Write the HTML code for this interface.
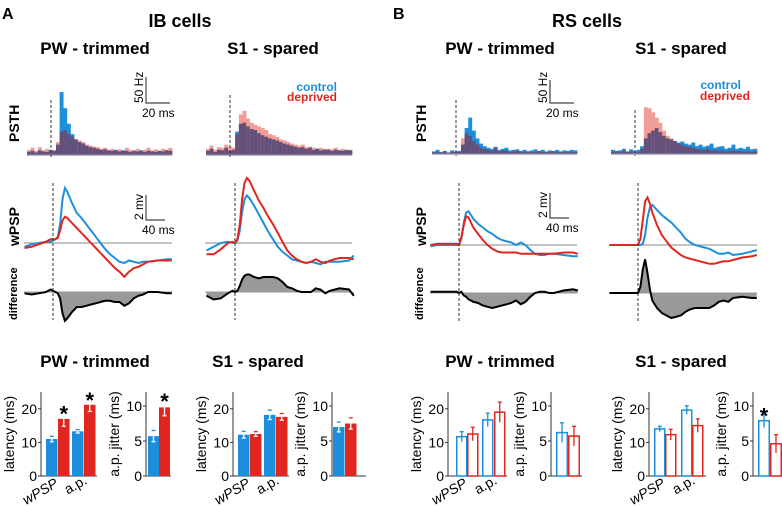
<!DOCTYPE html>
<html><head><meta charset="utf-8"><style>
body{margin:0;background:#fff;}
svg{display:block;font-family:"Liberation Sans",Arial,sans-serif;}
.b{font-weight:bold}
</style></head><body>
<svg id="fig" width="782" height="506" viewBox="0 0 782 506" xmlns="http://www.w3.org/2000/svg">
<g>
<text x="2" y="19" class="b" font-size="16">A</text>
<text x="393" y="19" class="b" font-size="16">B</text>
<text x="180" y="27" class="b" font-size="18" text-anchor="middle">IB cells</text>
<text x="587" y="27" class="b" font-size="18" text-anchor="middle">RS cells</text>
<text x="95" y="54" class="b" font-size="17" text-anchor="middle">PW - trimmed</text>
<text x="273" y="54" class="b" font-size="17" text-anchor="middle">S1 - spared</text>
<text x="500" y="54" class="b" font-size="17" text-anchor="middle">PW - trimmed</text>
<text x="681" y="54" class="b" font-size="17" text-anchor="middle">S1 - spared</text>
<text transform="translate(19,142) rotate(-90)" class="b" font-size="14">PSTH</text>
<text transform="translate(19,246) rotate(-90)" class="b" font-size="14">wPSP</text>
<text transform="translate(17,320) rotate(-90)" class="b" font-size="11">difference</text>
<text transform="translate(426,142) rotate(-90)" class="b" font-size="14">PSTH</text>
<text transform="translate(426,246) rotate(-90)" class="b" font-size="14">wPSP</text>
<text transform="translate(423,320) rotate(-90)" class="b" font-size="11">difference</text>
<text x="337" y="91" class="b" font-size="12" fill="#1b8fdc" text-anchor="end">control</text>
<text x="337" y="101" class="b" font-size="12" fill="#e0261f" text-anchor="end">deprived</text>
<text x="741" y="89" class="b" font-size="12" fill="#1b8fdc" text-anchor="end">control</text>
<text x="750" y="100" class="b" font-size="12" fill="#e0261f" text-anchor="end">deprived</text>
<text x="95" y="367" class="b" font-size="17" text-anchor="middle">PW - trimmed</text>
<text x="258" y="367" class="b" font-size="17" text-anchor="middle">S1 - spared</text>
<text x="500" y="367" class="b" font-size="17" text-anchor="middle">PW - trimmed</text>
<text x="681" y="367" class="b" font-size="17" text-anchor="middle">S1 - spared</text>
</g>
</svg>
<script>
const BLUE="#1b8fdc",RED="#e0261f",PURP="#65507a",PINK="#f19d98";
// PSTH data (Hz per bin)
const psthIbPwCtrl=[6,8,5,9,7,6,10,8,20,121,90,60,40,30,25,22,18,15,14,12,10,11,9,8,10,7,9,8,6,8,7,9,6,8,7,6,8,7,9,8];
const psthIbPwDep=[10,14,8,15,9,12,8,10,25,45,48,40,35,30,28,25,20,18,16,15,12,14,10,12,9,11,8,14,10,9,12,8,10,14,9,11,8,12,10,14];
const psthIbS1Ctrl=[8,12,6,10,9,14,8,10,45,60,62,55,50,48,42,38,35,32,30,28,25,22,20,18,16,14,15,12,14,10,12,9,11,10,8,10,9,8,10,9];
const psthIbS1Dep=[12,18,10,15,14,20,16,14,40,78,85,70,62,58,55,52,48,40,38,35,30,28,25,22,20,18,20,15,16,14,12,14,10,12,11,14,10,12,9,10];
const psthRsPwCtrl=[5,8,4,6,3,7,5,6,18,50,70,45,30,20,15,12,10,14,8,10,12,7,8,9,6,8,5,7,9,6,8,5,7,6,8,5,7,6,8,7];
const psthRsPwDep=[3,4,3,5,2,4,3,4,30,40,35,25,18,12,10,8,6,12,5,7,6,4,5,6,4,3,5,4,3,5,4,3,4,5,3,4,3,4,3,4];
const psthRsS1Ctrl=[8,6,7,10,5,9,6,8,15,30,40,45,50,42,35,30,28,25,22,24,20,18,22,15,18,14,16,20,12,14,15,10,12,18,10,12,10,14,9,10];
const psthRsS1Dep=[4,5,3,6,4,5,3,4,10,90,88,80,70,60,45,35,30,25,20,18,15,14,12,10,9,8,10,7,8,6,7,5,6,7,5,6,4,5,4,5];
// wPSP traces (ms, mV)
const tMs=[-60,-45,-30,-15,-5,0,5,10,15,20,25,30,40,50,60,70,80,90,100,110,120,130,140,150,160,170,180,190,200,220,240,250];
const wIbPwCtrl=[-0.3,-0.1,0,0.1,0.1,0.2,0.3,0.5,1.5,3.5,4.4,4.1,3.2,2.4,2.0,1.5,1.0,0.5,0,-0.5,-0.9,-1.2,-1.5,-1.6,-1.4,-1.5,-1.6,-1.5,-1.5,-1.4,-1.3,-1.3];
const wIbPwDep=[-0.4,-0.3,-0.1,0.1,0.3,0.3,0.3,0.4,1.0,1.8,2.1,2.0,1.6,1.2,0.8,0.4,0,-0.4,-0.8,-1.2,-1.6,-2.0,-2.3,-2.7,-2.3,-2.0,-1.9,-1.7,-1.5,-1.4,-1.4,-1.4];
const wIbS1Ctrl=[-0.6,-0.3,0,0.1,0,0,0.2,1.0,2.5,3.5,3.8,3.6,3.0,2.3,1.6,0.9,0.3,-0.3,-0.7,-1.0,-1.3,-1.4,-1.5,-1.6,-1.5,-1.6,-1.7,-1.5,-1.5,-1.5,-1.4,-1.0];
const wIbS1Dep=[-0.9,-0.9,-0.5,0,0.1,0,0.3,1.5,3.5,4.8,5.2,5.0,4.2,3.4,2.8,2.1,1.5,0.8,0.1,-0.6,-1.0,-1.3,-1.5,-1.6,-1.5,-1.3,-1.5,-1.6,-1.4,-1.2,-1.2,-1.3];
const wRsPwCtrl=[-0.1,0,0,0,0,0,0.5,1.8,2.6,2.7,2.4,2.1,1.7,1.4,1.1,0.9,0.6,0.4,0.3,0.2,0,0.2,0,-0.4,-0.7,-0.8,-0.8,-0.7,-0.7,-0.8,-0.9,-0.9];
const wRsPwDep=[0,0.1,0.1,0.1,0.1,0,0.6,1.6,2.3,2.2,1.8,1.4,0.9,0.4,0,-0.3,-0.5,-0.6,-0.6,-0.6,-0.6,-0.7,-0.7,-0.7,-0.7,-0.7,-0.7,-0.7,-0.7,-0.6,-0.6,-0.7];
const wRsS1Ctrl=[0,0,0,0,0,0,0,0.1,0.8,2.2,3.0,3.2,2.8,2.4,2.1,1.8,1.4,1.0,0.5,0.2,0,-0.1,-0.2,-0.3,-0.5,-0.7,-0.7,-0.6,-0.8,-0.7,-0.5,-0.4];
const wRsS1Dep=[0,0,0,0,0,0,0.5,2.0,3.5,3.8,3.3,2.6,1.6,0.8,0.3,-0.2,-0.5,-0.8,-1.0,-1.1,-1.2,-1.3,-1.4,-1.5,-1.5,-1.4,-1.3,-1.3,-1.2,-1.0,-0.9,-0.8];
// Bar data: [wPSP ctrl, wPSP dep, a.p. ctrl, a.p. dep]
const latIbPw=[11,17,13.3,21.2], latIbPwErr=[0.8,2.2,0.5,2];
const jitIbPw=[5.7,9.8], jitIbPwErr=[0.8,1.2];
const latIbS1=[12.3,12.5,18.2,17.6], latIbS1Err=[1,0.7,1.4,1];
const jitIbS1=[7,7.5], jitIbS1Err=[0.7,0.8];
const latRsPw=[11.7,12.5,16.7,19], latRsPwErr=[1.5,2,2,3];
const jitRsPw=[6.2,5.7], jitRsPwErr=[1.4,1.4];
const latRsS1=[14,12.3,19.6,15], latRsS1Err=[0.8,1.6,1.3,2];
const jitRsS1=[7.9,4.6], jitRsS1Err=[1,1.3];
const latTicks=[0,10,20], jitTicks=[0,5,10];

const svg=document.getElementById('fig');
const NS="http://www.w3.org/2000/svg";
function mk(tag,attrs,parent){const e=document.createElementNS(NS,tag);for(const k in attrs)e.setAttribute(k,attrs[k]);(parent||svg).appendChild(e);return e;}

function psth(x0,x1,base,stimX,yTop,ctrl,dep,name){
  const g=mk('g',{});
  
  
  const n=ctrl.length,w=(x1-x0)/n,sc=26/50;
  const ys=v=>base-v*sc;
  for(let i=0;i<n;i++){
    const x=x0+i*w;
    const hi=Math.max(ctrl[i],dep[i]),lo=Math.min(ctrl[i],dep[i]);
    const r=mk('rect',{x:x,y:ys(hi),width:w+0.3,height:hi*sc,fill:ctrl[i]>=dep[i]?BLUE:PINK},g);
    
    
    const r2=mk('rect',{x:x,y:ys(lo),width:w+0.3,height:lo*sc,fill:PURP},g);
    
    
  }
  mk('line',{x1:x0,x2:x1,y1:base,y2:base,stroke:'#8a8aa8','stroke-width':1.2},g);
  const d=mk('line',{x1:stimX,x2:stimX,y1:yTop,y2:base+2,stroke:'#333','stroke-dasharray':'3,2','stroke-width':1},g);
  
  
}
psth(27,172,155,51,100,psthIbPwCtrl,psthIbPwDep,'psth-ib-pw');
psth(206,352,155,230,95,psthIbS1Ctrl,psthIbS1Dep,'psth-ib-s1');
psth(432,577,154,456,100,psthRsPwCtrl,psthRsPwDep,'psth-rs-pw');
psth(611,757,154,635,110,psthRsS1Ctrl,psthRsS1Dep,'psth-rs-s1');

function scaleBar(x,yTop,yBot,len,lbl1,lbl2,name){
  const g=mk('g',{});
  
  
  mk('polyline',{points:`${x},${yTop} ${x},${yBot} ${x+len},${yBot}`,fill:'none',stroke:'#444','stroke-width':1.2},g);
  const t1=mk('text',{transform:`translate(${x-3},${yBot}) rotate(-90)`,'font-size':12},g);t1.textContent=lbl1;
  const t2=mk('text',{x:x-4,y:yBot+14,'font-size':12},g);t2.textContent=lbl2;
}
scaleBar(146,77,103,24,'50 Hz','20 ms','psth-scale-bar');
scaleBar(550,80,103,24,'50 Hz','20 ms','psth-scale-bar-b');
scaleBar(146,195,220,19,'2 mv','40 ms','wpsp-scale-bar');
scaleBar(550,193,218,19,'2 mv','40 ms','wpsp-scale-bar-b');

function wpsp(x0,x1,stimX,base,diffBase,ctrl,dep,name){
  const g=mk('g',{});
  
  
  const xs=t=>stimX+t*0.475, ys=v=>base-v*12.5, yd=v=>diffBase-v*12.5;
  mk('line',{x1:x0,x2:x1,y1:base,y2:base,stroke:'#888','stroke-width':1},g);
  mk('line',{x1:x0,x2:x1,y1:diffBase,y2:diffBase,stroke:'#999','stroke-width':1},g);
  const diff=dep.map((v,i)=>v-ctrl[i]);
  let pts=tMs.map((t,i)=>`${xs(t).toFixed(1)},${yd(diff[i]).toFixed(1)}`);
  const a=mk('polygon',{points:`${xs(tMs[0])},${diffBase} `+pts.join(' ')+` ${xs(tMs[tMs.length-1])},${diffBase}`,fill:'#999',stroke:'none'},g);
  
  
  const dl=mk('polyline',{points:pts.join(' '),fill:'none',stroke:'#000','stroke-width':2},g);
  
  
  const cl=mk('polyline',{points:tMs.map((t,i)=>`${xs(t).toFixed(1)},${ys(ctrl[i]).toFixed(1)}`).join(' '),fill:'none',stroke:BLUE,'stroke-width':2},g);
  
  
  const rl=mk('polyline',{points:tMs.map((t,i)=>`${xs(t).toFixed(1)},${ys(dep[i]).toFixed(1)}`).join(' '),fill:'none',stroke:RED,'stroke-width':2},g);
  
  
  const d=mk('line',{x1:stimX,x2:stimX,y1:183,y2:diffBase+28,stroke:'#333','stroke-dasharray':'3,2','stroke-width':1},g);
  
  
}
wpsp(24,172,53,243,292,wIbPwCtrl,wIbPwDep,'wpsp-ib-pw');
wpsp(205,352,235,243,292,wIbS1Ctrl,wIbS1Dep,'wpsp-ib-s1');
wpsp(430,577,459,245,293,wRsPwCtrl,wRsPwDep,'wpsp-rs-pw');
wpsp(609,757,638,245,293,wRsS1Ctrl,wRsS1Dep,'wpsp-rs-s1');

function bars(axX,axEnd,bx,bw,vals,errs,ymax,ticks,ylab,filled,xl,name,stars){
  const g=mk('g',{});
  
  
  const y0=476,top=392,ys=v=>y0-v*(y0-top)/ymax;
  mk('line',{x1:axX,x2:axX,y1:top,y2:y0,stroke:'#333','stroke-width':1},g);
  mk('line',{x1:axX,x2:axEnd,y1:y0,y2:y0,stroke:'#333','stroke-width':1},g);
  ticks.forEach(t=>{
    mk('line',{x1:axX-3,x2:axX,y1:ys(t),y2:ys(t),stroke:'#333'},g);
    const tx=mk('text',{x:axX-4,y:ys(t)+5,'font-size':14,'text-anchor':'end'},g);tx.textContent=t;
  });
  const yl=mk('text',{transform:`translate(${axX-27},${(top+y0)/2}) rotate(-90)`,'font-size':14,'text-anchor':'middle'},g);yl.textContent=ylab;
  vals.forEach((v,i)=>{
    const c=i%2?RED:BLUE,x=bx[i];
    const r=mk('rect',filled?{x:x,y:ys(v),width:bw,height:v*(y0-top)/ymax,fill:c}:{x:x+0.75,y:ys(v),width:bw-1.5,height:v*(y0-top)/ymax,fill:'#fff',stroke:c,'stroke-width':1.5},g);
    
    
    const cx=x+bw/2,ec=filled?'#fff':c;
    mk('line',{x1:cx,x2:cx,y1:ys(v-errs[i]),y2:ys(v+errs[i]),stroke:ec,'stroke-width':1.3},g);
    mk('line',{x1:cx-2,x2:cx+2,y1:ys(v+errs[i]),y2:ys(v+errs[i]),stroke:c,'stroke-width':1.3},g);
    if(filled)mk('line',{x1:cx-2,x2:cx+2,y1:ys(v-errs[i]),y2:ys(v-errs[i]),stroke:'#fff','stroke-width':1.3},g);
  });
  if(xl){
    const a=mk('text',{transform:`translate(${bx[1]+1},${486}) rotate(-30)`,'font-size':14,'font-style':'italic','text-anchor':'end'},g);a.textContent='wPSP';
    const b=mk('text',{transform:`translate(${bx[3]+4},${483}) rotate(-30)`,'font-size':14,'text-anchor':'end'},g);b.textContent='a.p.';
  }
  (stars||[]).forEach(s=>{
    const st=mk('text',{x:bx[s]+bw/2,y:ys(vals[s]+errs[s])+10,'font-size':22,'text-anchor':'middle','font-weight':'bold'},g);
    
    
    st.textContent='*';
  });
}
bars(41,97,[46,58,72,84],11.5,latIbPw,latIbPwErr,25,latTicks,'latency (ms)',true,true,'latency-ib-pw',[1,3]);
bars(146,171,[148,159],11,jitIbPw,jitIbPwErr,12,jitTicks,'a.p. jitter (ms)',true,false,'jitter-ib-pw',[1]);
bars(233,289,[238,250,264,276],11.5,latIbS1,latIbS1Err,25,latTicks,'latency (ms)',true,true,'latency-ib-s1',[]);
bars(332,366,[333,345],11.5,jitIbS1,jitIbS1Err,12,jitTicks,'a.p. jitter (ms)',true,false,'jitter-ib-s1',[]);
bars(448,507,[456,467,482,494],11.5,latRsPw,latRsPwErr,25,latTicks,'latency (ms)',false,true,'latency-rs-pw',[]);
bars(551,582,[556,568],12,jitRsPw,jitRsPwErr,12,jitTicks,'a.p. jitter (ms)',false,false,'jitter-rs-pw',[]);
bars(649,706,[654,665,681,692],11.5,latRsS1,latRsS1Err,25,latTicks,'latency (ms)',false,true,'latency-rs-s1',[]);
bars(753,782,[758,770],12,jitRsS1,jitRsS1Err,12,jitTicks,'a.p. jitter (ms)',false,false,'jitter-rs-s1',[0]);
</script>
</body></html>
